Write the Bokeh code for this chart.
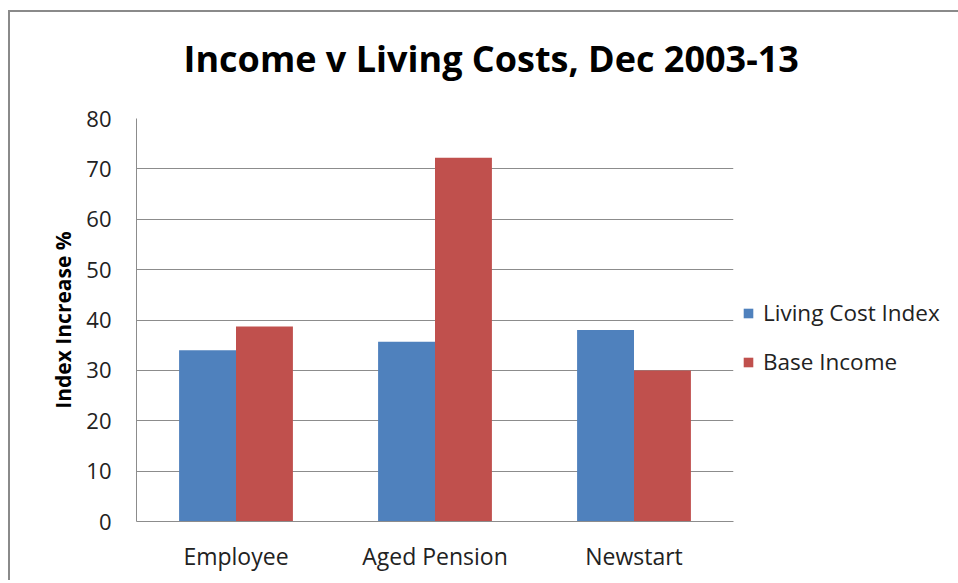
from bokeh.plotting import figure
from bokeh.models import ColumnDataSource, FactorRange, Legend, LegendItem, Title, SingleIntervalTicker
from bokeh.transform import dodge
from bokeh.embed import file_html
from bokeh.resources import INLINE

categories = ["Employee", "Aged Pension", "Newstart"]
series_names = ["Living Cost Index", "Base Income"]
living_cost = [34.0, 35.7, 38.0]
base_income = [38.7, 72.2, 30.0]
y_ticks = [0, 10, 20, 30, 40, 50, 60, 70, 80]

BLUE = "#4F81BD"
RED = "#C0504D"
FONT = "Open Sans"

src = ColumnDataSource(dict(cat=categories, lc=living_cost, bi=base_income))

p = figure(x_range=FactorRange(*categories), y_range=(0, 80),
           frame_width=597, frame_height=403, output_backend="svg", toolbar_location=None,
           min_border_left=126, min_border_right=224, min_border_top=106, min_border_bottom=59)
p.styles = {"border-left": "2px solid #8a8a8a", "border-top": "2px solid #8a8a8a",
            "margin-left": "8px", "margin-top": "10px"}

bw = 0.286
r1 = p.vbar(x=dodge("cat", -bw / 2, range=p.x_range), top="lc", width=bw, source=src,
            fill_color=BLUE, line_color=None)
r2 = p.vbar(x=dodge("cat", bw / 2, range=p.x_range), top="bi", width=bw, source=src,
            fill_color=RED, line_color=None)

p.title.text = "Income v Living Costs, Dec 2003-13"
p.title.align = "left"
p.title.offset = 47
p.title.text_font = FONT
p.title.text_font_size = "36px"
p.title.text_font_style = "bold"
p.title.text_color = "#000000"
p.add_layout(Title(text=" ", text_font_size="17px"), "above")

p.outline_line_color = None
p.background_fill_color = "white"
p.border_fill_color = "white"

p.xgrid.grid_line_color = None
p.ygrid.grid_line_color = "#8c8c8c"
p.ygrid.grid_line_width = 1
p.ygrid.ticker = SingleIntervalTicker(interval=10)

p.yaxis.ticker = y_ticks
p.yaxis.axis_line_color = "#8c8c8c"
p.yaxis.major_tick_line_color = None
p.yaxis.minor_tick_line_color = None
p.yaxis.major_label_text_font = FONT
p.yaxis.major_label_text_font_size = "22px"
p.yaxis.major_label_text_color = "#222222"
p.yaxis.major_label_standoff = 19
p.yaxis.axis_label = "Index Increase %"
p.yaxis.axis_label_text_font = FONT
p.yaxis.axis_label_text_font_size = "21px"
p.yaxis.axis_label_text_font_style = "bold"
p.yaxis.axis_label_text_color = "#000000"
p.yaxis.axis_label_standoff = 6

p.xaxis.axis_line_color = "#8c8c8c"
p.xaxis.major_tick_line_color = None
p.xaxis.minor_tick_line_color = None
p.xaxis.major_label_text_font = FONT
p.xaxis.major_label_text_font_size = "23px"
p.xaxis.major_label_text_color = "#222222"
p.xaxis.major_label_standoff = 12

legend = Legend(items=[LegendItem(label=series_names[0], renderers=[r1]),
                       LegendItem(label=series_names[1], renderers=[r2])],
                location=(9, 144), padding=0, margin=0, spacing=18,
                border_line_color=None, background_fill_alpha=0,
                glyph_width=12, glyph_height=12, label_standoff=9, label_height=23,
                label_text_font=FONT, label_text_font_size="22.5px", label_text_color="#222222")
p.add_layout(legend, "right")

open("out.html", "w").write(file_html(p, INLINE))
